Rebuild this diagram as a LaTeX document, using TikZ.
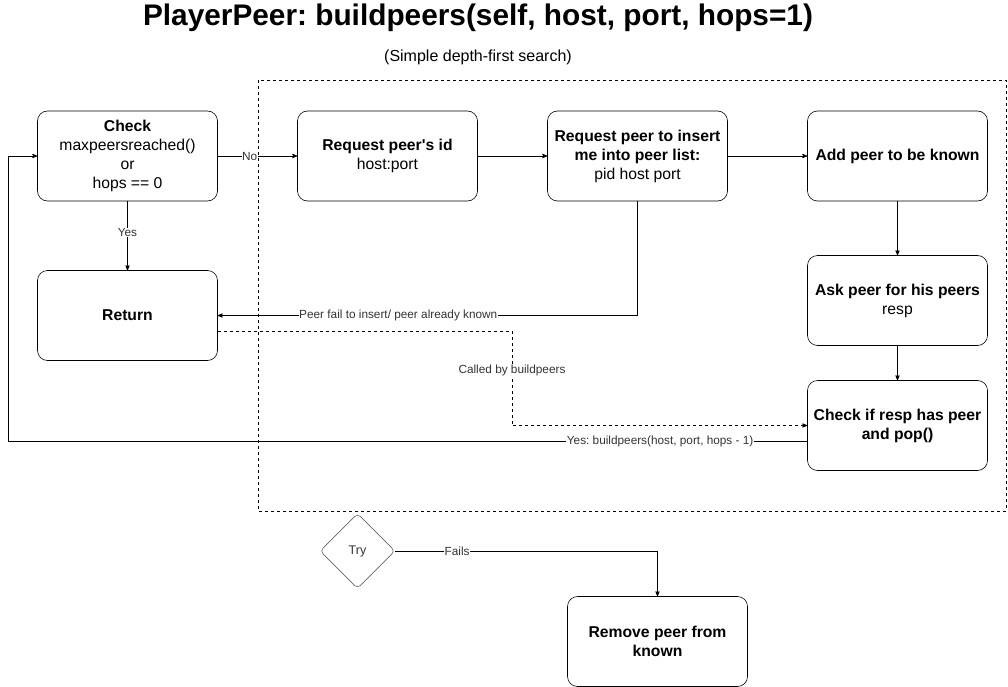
\documentclass[tikz,border=0pt]{standalone}
\usepackage{fontspec}
\setmainfont{Liberation Sans}
\frenchspacing
\usetikzlibrary{arrows,positioning,calc,shapes.geometric}
\tikzstyle{stepbox}=[draw,rounded corners=10pt,minimum width=180pt,minimum height=90pt,align=center,inner sep=2pt,font=\fontsize{15.7}{19}\selectfont]
\tikzstyle{lbl}=[fill=white,inner sep=0.5pt,text=black!80,font=\fontsize{11.8}{13}\selectfont]
\tikzstyle{link}=[->,>=stealth',thick]

\begin{document}
\begin{tikzpicture}[x=1pt,y=-1pt,semithick]
\useasboundingbox (0,0) rectangle (1008,687);
\node (title) at (478,18) {\bfseries\fontsize{29.8}{32}\selectfont PlayerPeer: buildpeers(self, host, port, hops=1)};
\node (sub) at (478,57) {\fontsize{16}{18}\selectfont(Simple depth-first search)};
\draw[dash pattern=on 3pt off 3pt,thin] (258,80) rectangle (1006,511);

\node [stepbox] (check) at (127.5,156) {\textbf{Check}\\maxpeersreached()\\or\\hops == 0};
\node [stepbox] (ret) at (127.5,315.5) {\textbf{Return}};
\node [stepbox] (reqid) at (387.5,156) {\textbf{Request peer\textquotesingle s id}\\host:port};
\node [stepbox] (reqins) at (637.5,156) {\textbf{Request peer to insert}\\\textbf{me into peer list:}\\pid host port};
\node [stepbox] (addpeer) at (897.5,156) {\textbf{Add peer to be known}};
\node [stepbox] (askpeer) at (897.5,300.5) {\textbf{Ask peer for his peers}\\resp};
\node [stepbox] (checkresp) at (897.5,425.5) {\textbf{Check if resp has peer}\\\textbf{and pop()}};
\node [diamond,draw=black!60,rounded corners=4pt,minimum width=75pt,minimum height=75pt,inner sep=0pt,font=\fontsize{12.5}{14}\selectfont,text=black!80] (try) at (357.5,551) {Try};
\node [stepbox] (remove) at (657.5,641.5) {\textbf{Remove peer from}\\\textbf{known}};

\coordinate (bend) at (512,331);
\coordinate (loopb) at (8,441);

\draw[link] (check) -- node[lbl,pos=0.4] {No} (reqid);
\draw[link] (reqid) -- (reqins);
\draw[link] (reqins) -- (addpeer);
\draw[link] (addpeer) -- (askpeer);
\draw[link] (askpeer) -- (checkresp);
\draw[link] (check) -- node[lbl,pos=0.45] {Yes} (ret);
\draw[link] (reqins.south) |- node[lbl,pos=0.785] {Peer fail to insert/ peer already known} (ret.east);
\draw[link,dash pattern=on 3pt off 3pt] ([yshift=-15.5pt]ret.east) -- (bend) |- node[lbl,pos=0.21] {Called by buildpeers} (checkresp.west);
\draw[link] ([yshift=-15.5pt]checkresp.west) -- node[lbl,pos=0.184] {Yes: buildpeers(host, port, hops - 1)} (loopb) |- (check.west);
\draw[link] (try.east) -| node[lbl,pos=0.118] {Fails} (remove.north);
\end{tikzpicture}
\end{document}
